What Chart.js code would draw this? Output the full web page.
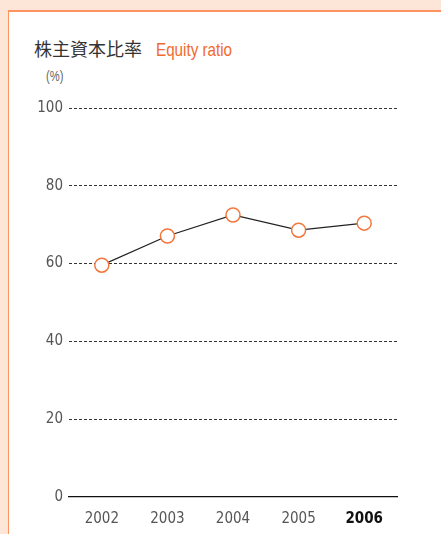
<!DOCTYPE html>
<html>
<head>
    <title>株主資本比率 Equity ratio</title>
    <script src="https://cdn.jsdelivr.net/npm/chart.js"></script>
    <style>
        body { margin: 0; width: 441px; height: 534px; background: #fde6d8; overflow: hidden; position: relative; font-family: 'DejaVu Sans Condensed', 'Liberation Sans Narrow', sans-serif; }
        .panel { position: absolute; left: 8px; top: 10px; width: 460px; height: 560px; background: #fff; border-top: 2px solid #ff935f; border-left: 1.5px solid #ff935f; }
        .title { position: absolute; left: 34px; top: 35px; font-size: 18px; color: #333; font-family: 'Noto Sans CJK JP', sans-serif; white-space: nowrap; }
        .title span { display: inline-block; color: #f26a2e; font-family: 'Liberation Sans', sans-serif; font-size: 19px; margin-left: 14px; transform: scaleX(0.8); transform-origin: left center; }
        .unit { position: absolute; left: 46px; top: 68px; font-size: 14px; color: #666; font-family: 'Liberation Sans', sans-serif; transform: scaleX(0.8); transform-origin: left center; }
        .chart-box { position: absolute; left: 0; top: 0; width: 441px; height: 534px; }
    </style>
</head>
<body>
    <div class="panel"></div>
    <div class="title">株主資本比率<span>Equity ratio</span></div>
    <div class="unit">(%)</div>
    <div class="chart-box"><canvas id="equityChart"></canvas></div>

    <script>
        // ===== DATA =====
        const years = ['2002', '2003', '2004', '2005', '2006'];
        const equityRatio = [59.6, 67.1, 72.5, 68.6, 70.4];
        const yTicks = [0, 20, 40, 60, 80, 100];

        const orange = '#f4763a';
        const tickFamily = "'DejaVu Sans Condensed', 'Liberation Sans Narrow', sans-serif";

        new Chart(document.getElementById('equityChart'), {
            type: 'line',
            data: {
                labels: years,
                datasets: [{
                    label: 'Equity ratio',
                    data: equityRatio,
                    borderColor: '#222',
                    borderWidth: 1.2,
                    tension: 0,
                    pointRadius: 7,
                    pointBackgroundColor: '#fff',
                    pointBorderColor: orange,
                    pointBorderWidth: 1.5
                }]
            },
            options: {
                responsive: true,
                maintainAspectRatio: false,
                animation: false,
                layout: { padding: { top: 108, right: 44, left: 0, bottom: 0 } },
                plugins: { legend: { display: false }, tooltip: { enabled: false } },
                scales: {
                    x: {
                        offset: true,
                        grid: { display: false },
                        border: { display: true, color: '#111', width: 1.2 },
                        ticks: {
                            padding: 5,
                            color: ctx => ctx.index === 4 ? '#111' : '#555',
                            font: ctx => ({ family: tickFamily, size: 15, weight: ctx.index === 4 ? 'bold' : 'normal' })
                        },
                        afterFit: axis => { axis.height = 37; }
                    },
                    y: {
                        min: 0,
                        max: 100,
                        afterBuildTicks: axis => { axis.ticks = yTicks.map(v => ({ value: v })); },
                        grid: { color: ctx => ctx.tick && ctx.tick.value === 0 ? 'rgba(0,0,0,0)' : '#333', lineWidth: 1, drawTicks: false },
                        border: { display: false, dash: [3, 2] },
                        ticks: {
                            padding: 6,
                            color: '#555',
                            font: { family: tickFamily, size: 15 }
                        },
                        afterFit: axis => { axis.width = 69; }
                    }
                }
            }
        });
    </script>
</body>
</html>
